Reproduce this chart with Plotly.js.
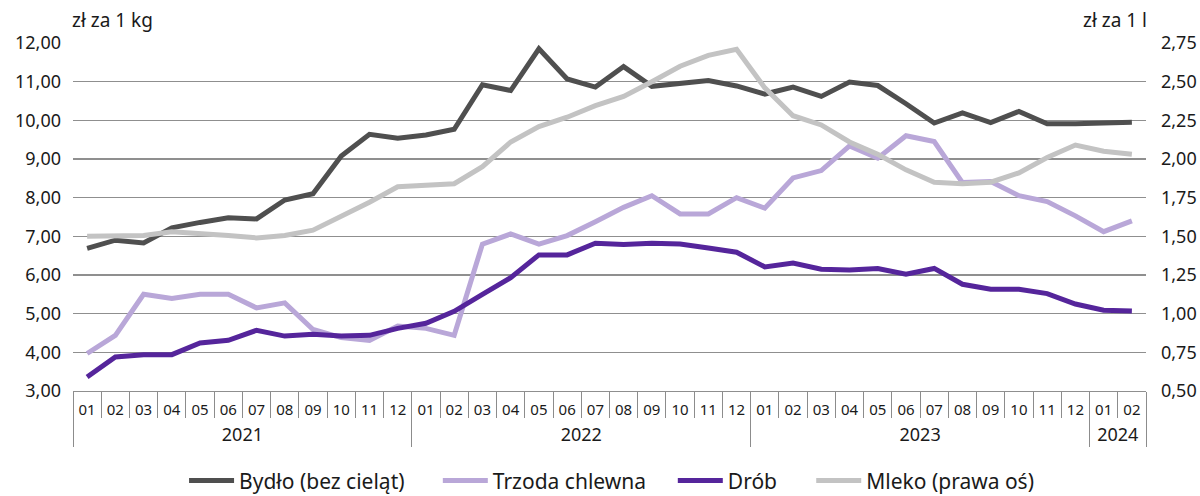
<!DOCTYPE html>
<html>
<head>
<meta charset="utf-8">
<script src="https://cdn.plot.ly/plotly-3.0.1.min.js"></script>
<style>
  html, body { margin: 0; padding: 0; background: #fff; }
  #chart { width: 1200px; height: 496px; }
</style>
</head>
<body>
<div id="chart"></div>
<script>
// Category labels (outer: year, inner: month)
const years = [
  "2021","2021","2021","2021","2021","2021","2021","2021","2021","2021","2021","2021",
  "2022","2022","2022","2022","2022","2022","2022","2022","2022","2022","2022","2022",
  "2023","2023","2023","2023","2023","2023","2023","2023","2023","2023","2023","2023",
  "2024","2024"
];
const months = [
  "01","02","03","04","05","06","07","08","09","10","11","12",
  "01","02","03","04","05","06","07","08","09","10","11","12",
  "01","02","03","04","05","06","07","08","09","10","11","12",
  "01","02"
];

// Series values (zł za 1 kg), left axis
const bydlo = [
  6.69, 6.90, 6.83, 7.22, 7.36, 7.48, 7.45, 7.94, 8.10, 9.08, 9.64, 9.54,
  9.62, 9.77, 10.92, 10.77, 11.85, 11.07, 10.86, 11.39, 10.88, 10.96, 11.03, 10.89,
  10.68, 10.86, 10.62, 10.99, 10.90, 10.43, 9.93, 10.19, 9.94, 10.23, 9.91, 9.91,
  9.94, 9.95
];
const trzoda = [
  3.97, 4.44, 5.50, 5.39, 5.50, 5.50, 5.15, 5.28, 4.59, 4.38, 4.31, 4.68,
  4.62, 4.44, 6.80, 7.06, 6.80, 7.02, 7.38, 7.75, 8.05, 7.58, 7.58, 8.00,
  7.73, 8.51, 8.70, 9.34, 9.02, 9.60, 9.45, 8.39, 8.42, 8.05, 7.90, 7.53,
  7.12, 7.40
];
const drob = [
  3.36, 3.88, 3.94, 3.94, 4.24, 4.31, 4.57, 4.42, 4.47, 4.42, 4.44, 4.62,
  4.75, 5.06, 5.50, 5.93, 6.52, 6.52, 6.82, 6.79, 6.82, 6.80, 6.70, 6.59,
  6.21, 6.31, 6.15, 6.13, 6.17, 6.02, 6.17, 5.76, 5.63, 5.63, 5.52, 5.25,
  5.09, 5.07
];
// Mleko (zł za 1 l), right axis
const mleko = [
  1.50, 1.50, 1.505, 1.53, 1.52, 1.505, 1.49, 1.505, 1.54, 1.63, 1.72, 1.82,
  1.83, 1.84, 1.95, 2.11, 2.21, 2.27, 2.345, 2.405, 2.50, 2.60, 2.67, 2.71,
  2.46, 2.28, 2.22, 2.11, 2.03, 1.93, 1.85, 1.84, 1.85, 1.91, 2.01, 2.09,
  2.05, 2.03
];

const seriesNames = ["Bydło (bez cieląt)", "Trzoda chlewna", "Drób", "Mleko (prawa oś)"];
const colors = ["#4f4f4f", "#b9a7d8", "#55259b", "#c3c3c3"];

const FONT = "'Noto Sans', 'Open Sans', sans-serif";
// Outer (year) labels drawn larger and a little lower than the month labels
const yearLabels = years.map(y => '<span style="font-size:18px;baseline-shift:-9px">' + y + '</span>');
const xcat = [yearLabels, months];

const legendNames = ["legend", "legend2", "legend3", "legend4"];
const legendX = [0.1035, 0.340, 0.5590, 0.6880];
const yaxesOf = ["y", "y", "y", "y2"];
const valuesOf = [bydlo, trzoda, drob, mleko];

const traces = valuesOf.map((vals, i) => ({
  x: xcat, y: vals, name: seriesNames[i], type: "scatter", mode: "lines",
  line: { color: colors[i], width: 5 }, yaxis: yaxesOf[i], legend: legendNames[i]
}));

const layout = {
  width: 1200, height: 496,
  margin: { l: 73, r: 54, t: 43, b: 105, autoexpand: false },
  paper_bgcolor: "#fff", plot_bgcolor: "#fff",
  separators: ", ",
  font: { family: FONT, size: 17, color: "#1a1a1a" },
  showlegend: true,
  xaxis: {
    type: "multicategory",
    range: [-0.5, years.length - 0.5],
    autorange: false,
    showgrid: false,
    showline: true, linecolor: "#8f8f8f", linewidth: 1.3,
    zeroline: false,
    ticks: "outside", tickson: "boundaries", ticklen: 26,
    tickcolor: "#8c8c8c", tickwidth: 1,
    showdividers: true, dividercolor: "#8c8c8c", dividerwidth: 1,
    tickfont: { family: FONT, size: 15, color: "#1a1a1a" },
    ticklabelstandoff: 5
  },
  yaxis: {
    range: [3, 12], dtick: 1, tick0: 3, tickformat: ".2f",
    showgrid: true, gridcolor: "#8f8f8f", gridwidth: 1.3,
    zeroline: false, showline: false, ticks: "",
    tickfont: { family: FONT, size: 18, color: "#1a1a1a" },
    ticklabelstandoff: 11
  },
  yaxis2: {
    overlaying: "y", side: "right",
    range: [0.5, 2.75], dtick: 0.25, tick0: 0.5, tickformat: ".2f",
    showgrid: false, zeroline: false, showline: false, ticks: "",
    tickfont: { family: FONT, size: 18, color: "#1a1a1a" },
    ticklabelstandoff: 14
  },
  annotations: [
    { text: "zł za 1 kg", xref: "paper", yref: "paper", x: 0, y: 1, xanchor: "left",
      yanchor: "bottom", yshift: 8, xshift: -3, showarrow: false,
      font: { family: FONT, size: 19, color: "#1a1a1a" } },
    { text: "zł za 1 l", xref: "paper", yref: "paper", x: 1, y: 1, xanchor: "right",
      yanchor: "bottom", yshift: 8, xshift: 3, showarrow: false,
      font: { family: FONT, size: 19, color: "#1a1a1a" } }
  ]
};

legendNames.forEach((ln, i) => {
  layout[ln] = {
    orientation: "h", x: legendX[i], xanchor: "left",
    y: -0.258, yanchor: "middle",
    font: { family: FONT, size: 21, color: "#1a1a1a" },
    itemwidth: 45,
    bgcolor: "rgba(0,0,0,0)"
  };
});

Plotly.newPlot("chart", traces, layout, { displayModeBar: false, staticPlot: true });
</script>
</body>
</html>
